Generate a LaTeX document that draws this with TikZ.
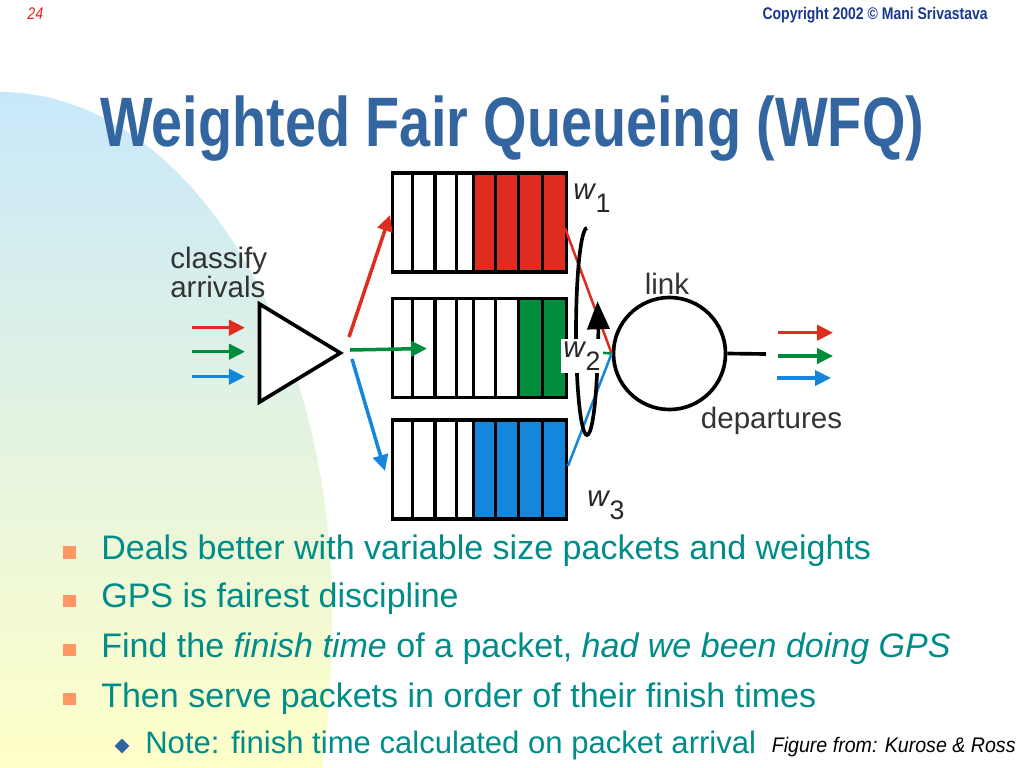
\documentclass[tikz,border=0pt]{standalone}
\usepackage{graphicx}
\usepackage{fontspec}
\setmainfont{Liberation Sans}
\usetikzlibrary{positioning, arrows.meta, shapes.geometric}

\definecolor{pktred}{RGB}{222,45,30}
\definecolor{pktgreen}{RGB}{0,140,60}
\definecolor{pktblue}{RGB}{20,135,220}
\definecolor{titleblue}{RGB}{51,102,160}
\definecolor{bullettext}{RGB}{0,140,136}
\definecolor{bulletsq}{RGB}{255,150,100}
\definecolor{navyblue}{RGB}{25,55,140}
\definecolor{bgblue}{RGB}{200,232,250}
\definecolor{bgyellow}{RGB}{255,255,200}

\begin{document}
\begin{tikzpicture}[
x=0.025cm, y=-0.025cm,
queue/.style={rectangle, draw, line width=2.6pt, minimum width=4.35cm, minimum height=2.47cm, inner sep=0pt},
lbl/.style={font=\fontsize{21}{19.2}\selectfont, text=black!80, inner sep=0pt},
wlbl/.style={font=\fontsize{21}{21}\selectfont, text=black!85, inner sep=1pt},
arrow/.style={-{Triangle[length=0.4cm, width=0.38cm]}, line width=2.5pt},
feed/.style={line width=1.8pt},
bullet/.style={anchor=base west, inner sep=0pt, text=bullettext, font=\fontsize{24.2}{28}\selectfont},
sqbullet/.style={rectangle, fill=bulletsq, minimum size=0.32cm, inner sep=0pt}
]
\useasboundingbox (0,0) rectangle (1024,768);

% background
\shade[top color=bgblue, bottom color=bgyellow] (0,92) .. controls (183,92) and (332,325) .. (332,612)
  .. controls (332,680) and (328,730) .. (322,768) -- (0,768) -- cycle;

% header
\node[anchor=base west, inner sep=0pt, text=pktred, font=\fontsize{12}{12}\selectfont\itshape] (page_no) at (27,19.5) {\scalebox{0.85}[1]{24}};
\node[anchor=base east, inner sep=0pt, text=navyblue, font=\fontsize{12}{12}\selectfont\bfseries] (copy_note) at (988,19.5) {\scalebox{0.83}[1]{Copyright 2002 \textcopyright{} Mani Srivastava}};
\node[anchor=base west, inner sep=0pt, text=titleblue, font=\fontsize{49.8}{56}\selectfont\bfseries] (title) at (100,147) {\scalebox{0.797}[1]{Weighted Fair Queueing (WFQ)}};

% classifier
\node[lbl, align=left, anchor=base west] (cls_lbl) at (170,297) {classify\\[-0.6pt]arrivals};
\node[isosceles triangle, isosceles triangle stretches, draw, line width=2.6pt, minimum height=2.02cm, minimum width=2.45cm, inner sep=0pt, anchor=west, fill=white] (classifier) at (257.7,353) {};

\coordinate (in_r_a) at (192,327.7); \coordinate (in_r_b) at (245,327.7);
\coordinate (in_g_a) at (192,351.7); \coordinate (in_g_b) at (245,351.7);
\coordinate (in_b_a) at (192,376.7); \coordinate (in_b_b) at (245,376.7);
\draw[arrow, pktred] (in_r_a) -- (in_r_b);
\draw[arrow, pktgreen] (in_g_a) -- (in_g_b);
\draw[arrow, pktblue] (in_b_a) -- (in_b_b);

% queues
\fill[pktred] (473.5,173.5) rectangle (566.5,271.5);
\fill[pktgreen] (518.5,298.3) rectangle (566.5,397.5);
\fill[pktblue] (473.5,420) rectangle (566.5,519.3);
\node[queue] (q_top) at (479.5,222.5) {};
\node[queue] (q_mid) at (479.5,348) {};
\node[queue] (q_bot) at (479.5,469.7) {};
\foreach \sx in {412.5,435,456.5,473.5,495.5,518.5,542.5} {
  \draw[line width=2.6pt] (\sx,173.5) -- (\sx,271.5);
  \draw[line width=2.6pt] (\sx,298.3) -- (\sx,397.5);
  \draw[line width=2.6pt] (\sx,420) -- (\sx,519.3);
}

\coordinate (split_r) at (349,337); \coordinate (to_top) at (390,215);
\coordinate (split_g) at (350,350); \coordinate (to_mid) at (427,348.5);
\coordinate (split_b) at (352,359); \coordinate (to_bot) at (385,471);
\draw[arrow, pktred] (split_r) -- (to_top);
\draw[arrow, pktgreen] (split_g) -- (to_mid);
\draw[arrow, pktblue] (split_b) -- (to_bot);

% link
\node[circle, draw, line width=2.6pt, minimum size=2.8cm, inner sep=0pt] (link_circ) at (669.5,353.5) {};
\coordinate (top_out) at (565,228);
\coordinate (mid_out) at (567,350);
\coordinate (bot_out) at (568,466);
\draw[feed, pktred] (top_out) -- (link_circ.west);
\draw[feed, pktgreen] (mid_out) -- (link_circ.west);
\draw[feed, pktblue] (bot_out) -- (link_circ.west);

% round robin loop
\draw[line width=2.6pt, -{Triangle[length=0.7cm, width=0.55cm]}] (587,228) arc[start angle=-90, end angle=-377, x radius=11, y radius=103.5];

\node[wlbl] (w_one) at (592,198) {\textit{w}\kern-0.5pt\raisebox{-9pt}{\fontsize{19}{19}\selectfont 1}};
\node[wlbl, fill=white, inner sep=2pt] (w_two) at (582,356) {\textit{w}\kern-0.5pt\raisebox{-9pt}{\fontsize{19}{19}\selectfont 2}};
\node[wlbl] (w_three) at (606,505) {\textit{w}\kern-0.5pt\raisebox{-9pt}{\fontsize{19}{19}\selectfont 3}};

\node[lbl, anchor=base] (link_lbl) at (667,294) {link};
\node[lbl, anchor=base] (dep_lbl) at (771.5,428) {departures};

\coordinate (link_end) at (766,354);
\draw[line width=2.6pt] (link_circ.east) -- (link_end);

\coordinate (out_r_a) at (778,332.7); \coordinate (out_r_b) at (833,332.7);
\coordinate (out_g_a) at (778,356); \coordinate (out_g_b) at (833,356);
\coordinate (out_b_a) at (777,378); \coordinate (out_b_b) at (831,378);
\draw[arrow, pktred] (out_r_a) -- (out_r_b);
\draw[arrow, pktgreen] (out_g_a) -- (out_g_b);
\draw[arrow, pktblue] (out_b_a) -- (out_b_b);

% bullets
\node[sqbullet] (sq_one) at (69.5,552.5) {};
\node[sqbullet] (sq_two) at (69.5,601) {};
\node[sqbullet] (sq_three) at (69.5,650) {};
\node[sqbullet] (sq_four) at (69.5,699) {};
\node[diamond, fill=titleblue, minimum size=0.38cm, inner sep=0pt] (dia_one) at (122,746) {};

\node[bullet] (txt_one) at (101,559.5) {Deals better with variable size packets and weights};
\node[bullet] (txt_two) at (101,607) {GPS is fairest discipline};
\node[bullet] (txt_three) at (101,657) {Find the \textit{finish time} of a packet, \textit{had we been doing GPS}};
\node[bullet] (txt_four) at (101,707) {Then serve packets in order of their finish times};
\node[bullet, font=\fontsize{22.1}{26}\selectfont] (txt_five) at (145,753) {Note: finish time calculated on packet arrival};
\node[anchor=base west, inner sep=0pt, font=\fontsize{15}{15}\selectfont\itshape] (credit) at (771.5,752) {\scalebox{0.93}[1]{Figure from: Kurose \& Ross}};

\end{tikzpicture}
\end{document}
